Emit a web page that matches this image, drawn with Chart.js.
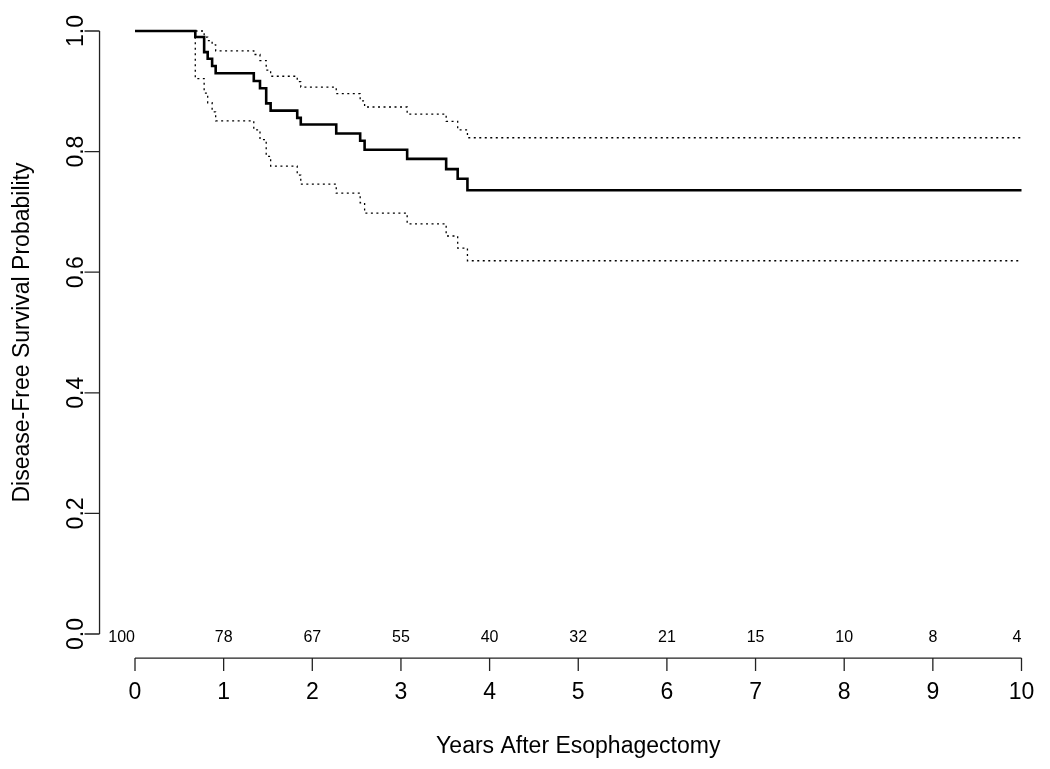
<!DOCTYPE html>
<html>
<head>
<meta charset="utf-8">
<script src="https://cdn.jsdelivr.net/npm/chart.js@4.4.1/dist/chart.umd.min.js"></script>
<style>
  html, body { margin: 0; padding: 0; background: #fff; }
  #wrap { width: 1050px; height: 769px; }
</style>
</head>
<body>
<div id="wrap"><canvas id="kmChart" width="1050" height="769"></canvas></div>
<script>
// Kaplan-Meier estimate with pointwise confidence band
const eventTimes = [0, 0.68, 0.78, 0.82, 0.87, 0.91, 1.34, 1.41, 1.48, 1.53, 1.83, 1.87, 2.27, 2.54, 2.59, 3.07, 3.51, 3.64, 3.75, 10];
const survival   = [1, 0.990, 0.965, 0.954, 0.942, 0.930, 0.917, 0.905, 0.880, 0.868, 0.856, 0.845, 0.830, 0.818, 0.803, 0.788, 0.771, 0.755, 0.736, 0.736];
const upperCI    = [1, 1.000, 0.990, 0.984, 0.977, 0.967, 0.961, 0.951, 0.935, 0.925, 0.916, 0.907, 0.896, 0.884, 0.874, 0.862, 0.850, 0.836, 0.823, 0.823];
const lowerCI    = [1, 0.921, 0.897, 0.881, 0.866, 0.851, 0.836, 0.820, 0.792, 0.776, 0.761, 0.746, 0.731, 0.715, 0.698, 0.680, 0.660, 0.640, 0.619, 0.619];

const xTicks = [0, 1, 2, 3, 4, 5, 6, 7, 8, 9, 10];
const yTicks = [0, 0.2, 0.4, 0.6, 0.8, 1.0];
const yTickLabels = ['0.0', '0.2', '0.4', '0.6', '0.8', '1.0'];
const atRisk = [100, 78, 67, 55, 40, 32, 21, 15, 10, 8, 4];

const xTitle = 'Years After Esophagectomy';
const yTitle = 'Disease-Free Survival Probability';

const toPoints = vals => eventTimes.map((t, i) => ({ x: t, y: vals[i] }));

const FONT = "'Liberation Sans', Arial, Helvetica, sans-serif";

// R-style axes: drawn a little away from the data region, line spans first..last tick
const rAxesPlugin = {
    id: 'rAxes',
    afterDraw(chart) {
        const ctx = chart.ctx;
        const xs = chart.scales.x;
        const ys = chart.scales.y;
        const axisY = ys.getPixelForValue(-0.04);
        const axisX = xs.getPixelForValue(-0.4);
        const tickLen = 13;

        ctx.save();
        ctx.strokeStyle = '#222';
        ctx.lineWidth = 1.3;
        ctx.fillStyle = '#000';

        // x axis
        ctx.beginPath();
        ctx.moveTo(xs.getPixelForValue(xTicks[0]), axisY);
        ctx.lineTo(xs.getPixelForValue(xTicks[xTicks.length - 1]), axisY);
        xTicks.forEach(v => {
            const px = xs.getPixelForValue(v);
            ctx.moveTo(px, axisY);
            ctx.lineTo(px, axisY + tickLen);
        });
        ctx.stroke();

        ctx.font = '23px ' + FONT;
        ctx.textAlign = 'center';
        ctx.textBaseline = 'alphabetic';
        xTicks.forEach(v => {
            ctx.fillText(String(v), xs.getPixelForValue(v), 699);
        });

        // y axis
        ctx.beginPath();
        ctx.moveTo(axisX, ys.getPixelForValue(yTicks[0]));
        ctx.lineTo(axisX, ys.getPixelForValue(yTicks[yTicks.length - 1]));
        yTicks.forEach(v => {
            const py = ys.getPixelForValue(v);
            ctx.moveTo(axisX, py);
            ctx.lineTo(axisX - tickLen - 2, py);
        });
        ctx.stroke();

        yTicks.forEach((v, i) => {
            ctx.save();
            ctx.translate(83, ys.getPixelForValue(v));
            ctx.rotate(-Math.PI / 2);
            ctx.fillText(yTickLabels[i], 0, 0);
            ctx.restore();
        });

        // numbers at risk, on the zero line
        ctx.font = '16px ' + FONT;
        ctx.textBaseline = 'middle';
        atRisk.forEach((n, i) => {
            ctx.textAlign = (i === 0 || i === atRisk.length - 1) ? 'right' : 'center';
            ctx.fillText(String(n), xs.getPixelForValue(xTicks[i]), 638);
        });

        // axis titles
        ctx.font = '23px ' + FONT;
        ctx.textAlign = 'center';
        ctx.textBaseline = 'alphabetic';
        ctx.fillText(xTitle, (xs.left + xs.right) / 2, 753);

        ctx.save();
        ctx.translate(29, (ys.top + ys.bottom) / 2);
        ctx.rotate(-Math.PI / 2);
        ctx.fillText(yTitle, 0, 0);
        ctx.restore();

        ctx.restore();
    }
};

const dotted = {
    borderColor: '#000',
    borderWidth: 1.3,
    borderDash: [2, 3.5],
    pointRadius: 0,
    stepped: 'before',
    fill: false,
    clip: false
};

new Chart(document.getElementById('kmChart'), {
    type: 'line',
    data: {
        datasets: [
            Object.assign({ label: 'Upper 95% CI', data: toPoints(upperCI) }, dotted),
            Object.assign({ label: 'Lower 95% CI', data: toPoints(lowerCI) }, dotted),
            {
                label: 'Disease-free survival',
                data: toPoints(survival),
                borderColor: '#000',
                borderWidth: 2.6,
                pointRadius: 0,
                stepped: 'before',
                fill: false,
                clip: false
            }
        ]
    },
    options: {
        responsive: false,
        animation: false,
        devicePixelRatio: 1,
        layout: { padding: { left: 135, right: 28.5, top: 31, bottom: 135 } },
        plugins: {
            legend: { display: false },
            tooltip: { enabled: false }
        },
        scales: {
            x: { type: 'linear', min: 0, max: 10, display: false },
            y: { type: 'linear', min: 0, max: 1, display: false }
        }
    },
    plugins: [rAxesPlugin]
});
</script>
</body>
</html>
